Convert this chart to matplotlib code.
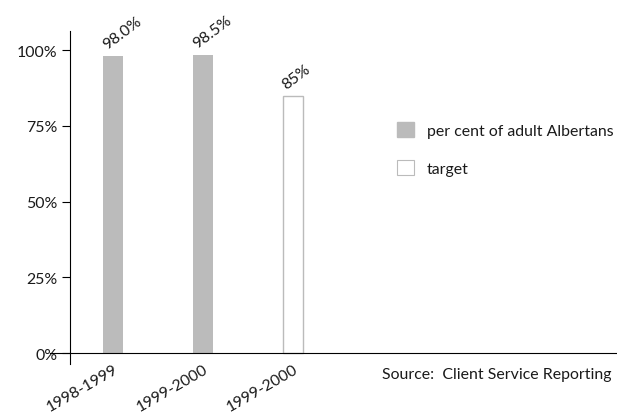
import matplotlib.pyplot as plt
from matplotlib.patches import Patch

plt.rcParams['font.family'] = ['Lato', 'DejaVu Sans']

# values
years = ["1998-1999", "1999-2000", "1999-2000"]
values = [98.0, 98.5, 85]
value_labels = ["98.0%", "98.5%", "85%"]
is_target = [False, False, True]
yticks = [0, 25, 50, 75, 100]
ytick_labels = ["0%", "25%", "50%", "75%", "100%"]

gray = '#BBBBBB'
txt = '#1a1a1a'
fs = 11.4

fig = plt.figure(figsize=(6.17, 4.14), dpi=100)
W, H = 617, 414
# axes box in pixels: left 50, right 617, bottom 365, top 32
ax = fig.add_axes([50 / W, (H - 365) / H, 567 / W, 333 / H])

x = [0, 1, 2]
for xi, v, t in zip(x, values, is_target):
    if t:
        ax.bar(xi, v, width=0.22, color='white', edgecolor=gray, linewidth=1.0)
    else:
        ax.bar(xi, v, width=0.22, color=gray, edgecolor='none')

for xi, v, lab in zip(x, values, value_labels):
    ax.text(xi - 0.07, v + 2.2, lab, rotation=37, ha='left', va='baseline',
            rotation_mode='anchor', fontsize=fs, color=txt)

ax.set_xlim(-0.7, 5.6)
ax.set_ylim(-3.6, 106.3)

ax.spines['top'].set_visible(False)
ax.spines['right'].set_visible(False)
ax.spines['left'].set_position(('data', -0.478))
ax.spines['bottom'].set_position(('data', 0))
for s in ('left', 'bottom'):
    ax.spines[s].set_linewidth(0.8)
    ax.spines[s].set_color('black')

ax.set_yticks(yticks)
ax.set_yticklabels(ytick_labels, fontsize=fs, color=txt)
ax.tick_params(axis='y', length=6, width=0.8, pad=3)

ax.set_xticks(x)
ax.set_xticklabels(years, rotation=30, ha='right', rotation_mode='anchor',
                   fontsize=fs, color=txt)
ax.tick_params(axis='x', length=0, pad=6)

handles = [Patch(facecolor=gray, edgecolor=gray, label='per cent of adult Albertans'),
           Patch(facecolor='white', edgecolor=gray, linewidth=0.8, label='target')]
ax.legend(handles=handles, loc='upper left',
          bbox_to_anchor=(397 / W, (H - 123) / H), bbox_transform=fig.transFigure,
          frameon=False, fontsize=fs, handlelength=1.05, handleheight=1.05,
          handletextpad=0.85, labelspacing=1.4, borderpad=0, borderaxespad=0,
          labelcolor=txt)

fig.text(612 / W, (H - 375) / H, "Source:  Client Service Reporting",
         ha='right', va='center', fontsize=fs, color=txt)

fig.savefig('out.png', dpi=100)
